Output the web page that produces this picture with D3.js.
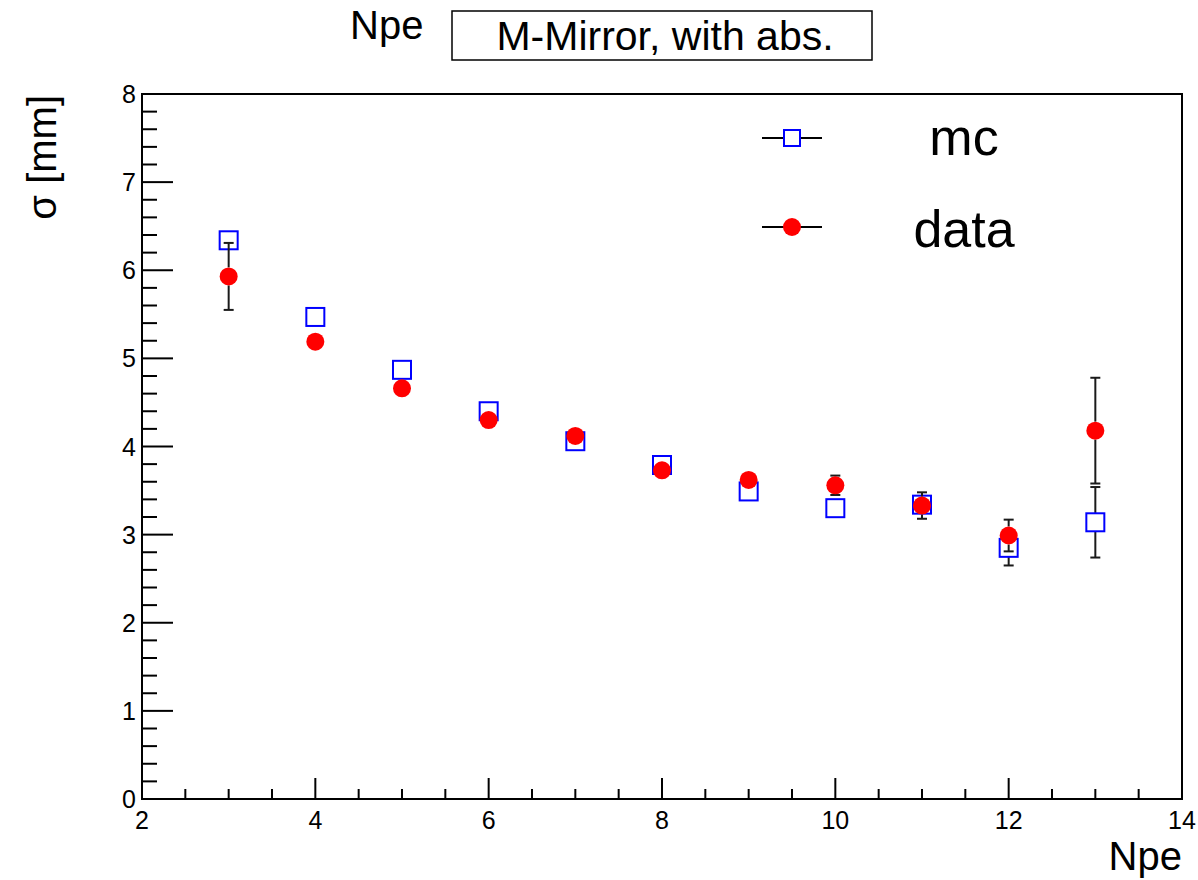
<!DOCTYPE html>
<html>
<head>
<meta charset="utf-8">
<script src="https://cdn.jsdelivr.net/npm/d3@7"></script>
<style>
  html, body { margin: 0; padding: 0; background: #fff; }
  svg { display: block; font-family: "Liberation Sans", Arial, Helvetica, sans-serif; }
</style>
</head>
<body>
<svg id="chart" width="1198" height="880"></svg>
<script>
// Npe bins
const npe = [3, 4, 5, 6, 7, 8, 9, 10, 11, 12, 13];
// Simulation: resolution sigma [mm] and its uncertainty
const mcSigma = [6.34, 5.47, 4.87, 4.40, 4.06, 3.79, 3.49, 3.30, 3.34, 2.85, 3.14];
const mcErr   = [0.05, 0.05, 0.05, 0.05, 0.06, 0.06, 0.07, 0.08, 0.09, 0.20, 0.40];
// Measurement: resolution sigma [mm] and its uncertainty
const dataSigma = [5.93, 5.19, 4.66, 4.30, 4.12, 3.73, 3.62, 3.56, 3.33, 2.99, 4.18];
const dataErr   = [0.38, 0.07, 0.06, 0.06, 0.07, 0.07, 0.08, 0.11, 0.15, 0.18, 0.60];
// Axis ticks
const xTicks = [2, 4, 6, 8, 10, 12, 14];
const yTicks = [0, 1, 2, 3, 4, 5, 6, 7, 8];

const svg = d3.select("#chart");
const plotL = 142, plotR = 1182, plotT = 94, plotB = 799;

const x = d3.scaleLinear().domain([2, 14]).range([plotL, plotR]);
const y = d3.scaleLinear().domain([0, 8]).range([plotB, plotT]);

const MARK = 9;      // half-size of markers in px
const CAP = 5;       // half-width of error caps

// ---- axes: ticks drawn inside the frame ----
const xMinor = d3.range(2, 14.001, 0.5);
const yMinor = d3.range(0, 8.001, 0.2);

const g = svg.append("g");

// x-axis ticks
g.selectAll("line.xt").data(xMinor).enter().append("line")
  .attr("x1", d => x(d)).attr("x2", d => x(d))
  .attr("y1", plotB)
  .attr("y2", d => Math.abs(d - Math.round(d / 2) * 2) < 1e-6 ? plotB - 21 : plotB - 10)
  .attr("stroke", "#000").attr("stroke-width", 2);

// y-axis ticks
g.selectAll("line.yt").data(yMinor).enter().append("line")
  .attr("y1", d => y(d)).attr("y2", d => y(d))
  .attr("x1", plotL)
  .attr("x2", d => Math.abs(d - Math.round(d)) < 1e-6 ? plotL + 31 : plotL + 15)
  .attr("stroke", "#000").attr("stroke-width", 2);

// frame
g.append("rect")
  .attr("x", plotL).attr("y", plotT)
  .attr("width", plotR - plotL).attr("height", plotB - plotT)
  .attr("fill", "none").attr("stroke", "#000").attr("stroke-width", 2);

// tick labels
g.selectAll("text.xl").data(xTicks).enter().append("text")
  .attr("x", d => x(d)).attr("y", plotB + 30)
  .attr("text-anchor", "middle")
  .attr("font-size", 25).attr("fill", "#000")
  .text(d => d);

g.selectAll("text.yl").data(yTicks).enter().append("text")
  .attr("x", plotL - 6).attr("y", d => y(d) + 9)
  .attr("text-anchor", "end")
  .attr("font-size", 25).attr("fill", "#000")
  .text(d => d);

// axis titles
svg.append("text")
  .attr("x", plotR).attr("y", 870)
  .attr("text-anchor", "end")
  .attr("font-size", 40).attr("fill", "#000")
  .text("Npe");

svg.append("text")
  .attr("transform", `translate(56, ${plotT + 1}) rotate(-90)`)
  .attr("text-anchor", "end")
  .attr("font-size", 40).attr("fill", "#000")
  .text("σ [mm]");

// title
svg.append("text")
  .attr("x", 350).attr("y", 39)
  .attr("font-size", 40).attr("fill", "#000")
  .text("Npe");

svg.append("rect")
  .attr("x", 452).attr("y", 11)
  .attr("width", 420).attr("height", 49)
  .attr("fill", "#fff").attr("stroke", "#000").attr("stroke-width", 1.5);

svg.append("text")
  .attr("x", 665).attr("y", 50)
  .attr("text-anchor", "middle")
  .attr("font-size", 41).attr("fill", "#000")
  .text("M-Mirror, with abs.");

// ---- error bars, clipped at the marker edge ----
function drawErrors(cls, vals, errs) {
  const rows = npe.map((n, i) => ({ n, v: vals[i], e: errs[i] }));
  const eg = svg.append("g").attr("class", cls)
    .attr("stroke", "#1a1a1a").attr("stroke-width", 2);
  rows.forEach(r => {
    const cx = x(r.n), cy = y(r.v);
    const yt = y(r.v + r.e), yb = y(r.v - r.e);
    if (cy - yt > MARK) {
      eg.append("line").attr("x1", cx).attr("x2", cx).attr("y1", yt).attr("y2", cy - MARK);
      eg.append("line").attr("x1", cx - CAP).attr("x2", cx + CAP).attr("y1", yt).attr("y2", yt);
    }
    if (yb - cy > MARK) {
      eg.append("line").attr("x1", cx).attr("x2", cx).attr("y1", cy + MARK).attr("y2", yb);
      eg.append("line").attr("x1", cx - CAP).attr("x2", cx + CAP).attr("y1", yb).attr("y2", yb);
    }
  });
}

// simulation: open blue squares
drawErrors("mc-err", mcSigma, mcErr);
svg.append("g").selectAll("rect").data(npe).enter().append("rect")
  .attr("x", (d, i) => x(d) - MARK).attr("y", (d, i) => y(mcSigma[i]) - MARK)
  .attr("width", 2 * MARK).attr("height", 2 * MARK)
  .attr("fill", "none").attr("stroke", "#0000ff").attr("stroke-width", 2);

// measurement: filled red circles
drawErrors("data-err", dataSigma, dataErr);
svg.append("g").selectAll("circle").data(npe).enter().append("circle")
  .attr("cx", d => x(d)).attr("cy", (d, i) => y(dataSigma[i]))
  .attr("r", MARK).attr("fill", "#ff0000");

// ---- legend ----
const legend = [
  { label: "mc", y: 138, kind: "square", dy: 17 },
  { label: "data", y: 227, kind: "circle", dy: 20 }
];
const lg = svg.append("g");
legend.forEach(l => {
  lg.append("line").attr("x1", 762).attr("x2", 822).attr("y1", l.y).attr("y2", l.y)
    .attr("stroke", "#000").attr("stroke-width", 2);
  if (l.kind === "square") {
    lg.append("rect").attr("x", 792 - 8).attr("y", l.y - 8).attr("width", 16).attr("height", 16)
      .attr("fill", "#fff").attr("stroke", "#0000ff").attr("stroke-width", 2);
  } else {
    lg.append("circle").attr("cx", 792).attr("cy", l.y).attr("r", 9).attr("fill", "#ff0000");
  }
  lg.append("text").attr("x", 964).attr("y", l.y + l.dy)
    .attr("text-anchor", "middle").attr("font-size", 52).attr("fill", "#000")
    .text(l.label);
});
</script>
</body>
</html>
